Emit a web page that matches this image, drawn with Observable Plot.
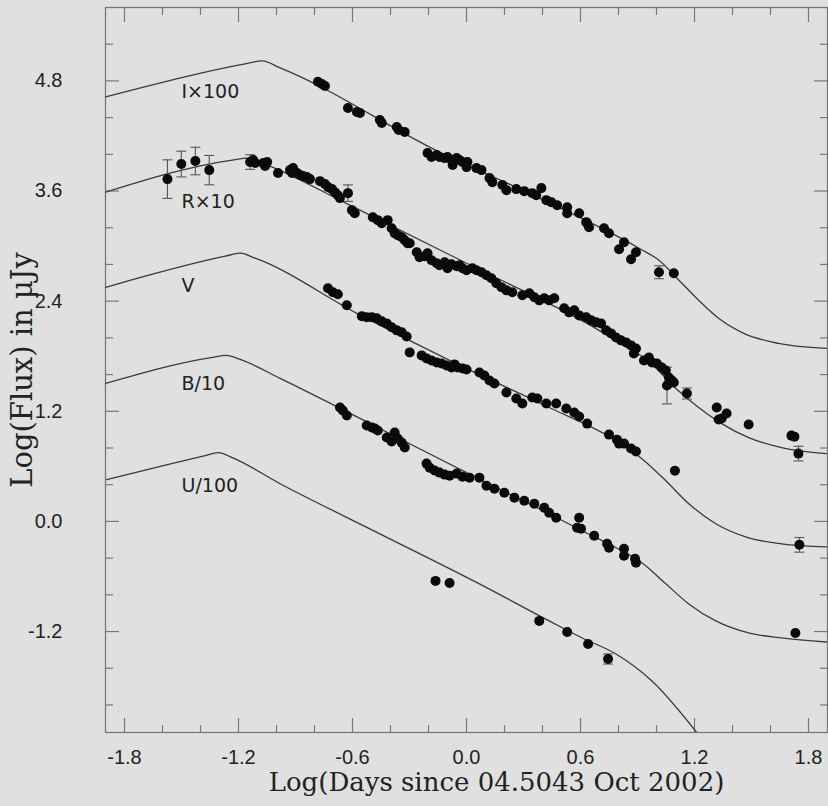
<!DOCTYPE html>
<html><head><meta charset="utf-8">
<script src="https://cdn.jsdelivr.net/npm/d3@7"></script>
<script src="https://cdn.jsdelivr.net/npm/@observablehq/plot@0.6"></script>
<style>
html,body{margin:0;padding:0;background:#e0e0e0;}
</style></head><body><div id="chart"></div>
<script>
// ---- tick values ----
const xMajor = [-1.8, -1.2, -0.6, 0.0, 0.6, 1.2, 1.8];
const xMinor = [-1.6, -1.4, -1.0, -0.8, -0.4, -0.2, 0.2, 0.4, 0.8, 1.0, 1.4, 1.6];
const yMajor = [-1.2, 0.0, 1.2, 2.4, 3.6, 4.8];
const yMinor = [-2.0, -1.6, -0.8, -0.4, 0.4, 0.8, 1.6, 2.0, 2.8, 3.2, 4.0, 4.4, 5.2];

// ---- band labels ----
const bandNames = ["I×100", "R×10", "V", "B/10", "U/100"];
const bandLabelX = [-1.50, -1.50, -1.50, -1.50, -1.50];
const bandLabelY = [4.68, 3.48, 2.57, 1.50, 0.39];

// ---- model curves [x, y] ----
const curveI = [[-1.899,4.625],[-1.165,4.986],[-1.076,5.018],[-0.981,4.942],[-0.142,4.025],[0.383,3.523],[0.908,2.977],[1.013,2.846],[1.118,2.628],[1.222,2.410],[1.327,2.213],[1.459,2.049],[1.642,1.940],[1.894,1.885]];
const curveR = [[-1.899,3.588],[-1.233,3.938],[-1.154,3.959],[-1.076,3.905],[-0.614,3.446],[0.000,2.813],[0.698,2.082],[0.829,1.918],[0.960,1.743],[1.102,1.448],[1.222,1.241],[1.343,1.066],[1.485,0.913],[1.658,0.804],[1.894,0.739]];
const curveV = [[-1.899,2.551],[-1.270,2.890],[-1.191,2.923],[-1.112,2.868],[-0.577,2.267],[-0.089,1.754],[0.435,1.241],[0.787,0.881],[0.923,0.684],[1.049,0.444],[1.170,0.193],[1.312,-0.025],[1.485,-0.178],[1.658,-0.244],[1.894,-0.277]];
const curveB = [[-1.899,1.503],[-1.338,1.787],[-1.265,1.809],[-1.191,1.765],[-0.981,1.558],[-0.456,1.012],[0.084,0.444],[0.435,0.084],[0.609,-0.102],[0.787,-0.287],[0.923,-0.451],[1.049,-0.680],[1.170,-0.899],[1.312,-1.084],[1.485,-1.215],[1.658,-1.270],[1.894,-1.314]];
const curveU = [[-1.894,0.455],[-1.375,0.717],[-1.306,0.750],[-1.233,0.695],[-0.981,0.411],[-0.456,-0.135],[0.068,-0.681],[0.435,-1.084],[0.609,-1.270],[0.787,-1.445],[0.976,-1.739],[1.212,-2.300]];

// ---- observed points [x, y] ----
const ptsI = [[-0.782,4.790],[-0.761,4.767],[-0.745,4.745],[-0.624,4.505],[-0.577,4.462],[-0.561,4.451],[-0.456,4.374],[-0.446,4.341],[-0.367,4.298],[-0.357,4.265],[-0.325,4.243],[-0.205,4.014],[-0.184,3.970],[-0.157,3.992],[-0.142,3.970],[-0.115,3.959],[-0.100,3.970],[-0.079,3.938],[-0.073,3.883],[-0.052,3.959],[-0.037,3.938],[-0.021,3.916],[0.000,3.861],[0.005,3.916],[0.052,3.850],[0.079,3.828],[0.121,3.741],[0.136,3.697],[0.189,3.665],[0.210,3.610],[0.262,3.621],[0.304,3.599],[0.346,3.577],[0.367,3.555],[0.394,3.632],[0.420,3.501],[0.446,3.479],[0.477,3.446],[0.530,3.424],[0.530,3.359],[0.593,3.359],[0.630,3.261],[0.645,3.206],[0.635,3.250],[0.724,3.195],[0.750,3.141],[0.803,2.966],[0.829,3.042],[0.866,2.857],[0.892,2.933],[1.013,2.715],[1.091,2.704]];
const ptsR = [[-1.574,3.730],[-1.501,3.894],[-1.427,3.927],[-1.354,3.828],[-1.139,3.916],[-1.112,3.905],[-1.123,3.938],[-1.070,3.905],[-1.060,3.872],[-1.049,3.916],[-0.992,3.796],[-0.929,3.828],[-0.918,3.796],[-0.913,3.850],[-0.892,3.796],[-0.876,3.774],[-0.861,3.763],[-0.840,3.752],[-0.824,3.730],[-0.771,3.708],[-0.745,3.676],[-0.729,3.643],[-0.708,3.621],[-0.693,3.588],[-0.677,3.555],[-0.666,3.523],[-0.624,3.577],[-0.603,3.392],[-0.588,3.359],[-0.493,3.315],[-0.467,3.283],[-0.446,3.250],[-0.415,3.283],[-0.394,3.195],[-0.378,3.141],[-0.362,3.119],[-0.341,3.097],[-0.325,3.064],[-0.310,3.031],[-0.299,3.031],[-0.262,2.933],[-0.247,2.879],[-0.220,2.890],[-0.205,2.922],[-0.184,2.846],[-0.157,2.813],[-0.142,2.792],[-0.115,2.824],[-0.100,2.759],[-0.079,2.802],[-0.052,2.780],[-0.037,2.792],[-0.021,2.759],[0.000,2.737],[0.031,2.759],[0.052,2.737],[0.079,2.715],[0.105,2.682],[0.131,2.649],[0.157,2.595],[0.184,2.551],[0.210,2.518],[0.241,2.497],[0.294,2.464],[0.331,2.486],[0.357,2.442],[0.383,2.409],[0.409,2.431],[0.435,2.409],[0.462,2.431],[0.514,2.322],[0.540,2.278],[0.567,2.300],[0.593,2.245],[0.630,2.224],[0.656,2.191],[0.682,2.169],[0.708,2.158],[0.735,2.082],[0.761,2.049],[0.787,2.005],[0.813,1.973],[0.840,1.951],[0.866,1.918],[0.892,1.885],[0.881,1.831],[0.934,1.754],[0.960,1.787],[0.976,1.732],[1.002,1.721],[1.028,1.678],[1.049,1.645],[1.065,1.569],[1.081,1.536],[1.065,1.503],[1.091,1.514],[1.055,1.481],[1.160,1.394],[1.317,1.241],[1.327,1.110],[1.343,1.121],[1.369,1.176],[1.485,1.056],[1.710,0.935],[1.726,0.924],[1.747,0.739]];
const ptsV = [[-0.729,2.540],[-0.703,2.497],[-0.677,2.475],[-0.630,2.355],[-0.551,2.235],[-0.525,2.224],[-0.498,2.224],[-0.472,2.213],[-0.446,2.180],[-0.420,2.158],[-0.394,2.115],[-0.367,2.082],[-0.341,2.060],[-0.315,2.016],[-0.299,1.842],[-0.236,1.809],[-0.210,1.776],[-0.184,1.754],[-0.157,1.732],[-0.131,1.721],[-0.105,1.700],[-0.079,1.678],[-0.063,1.711],[-0.047,1.678],[-0.021,1.667],[0.000,1.656],[0.068,1.623],[0.094,1.590],[0.121,1.536],[0.147,1.503],[0.210,1.405],[0.262,1.339],[0.294,1.285],[0.346,1.350],[0.373,1.339],[0.420,1.285],[0.472,1.285],[0.525,1.230],[0.567,1.187],[0.593,1.143],[0.635,1.066],[0.750,0.946],[0.792,0.891],[0.803,0.848],[0.829,0.848],[0.866,0.794],[0.892,0.761],[1.097,0.553],[1.752,-0.255]];
const ptsB = [[-0.666,1.241],[-0.651,1.208],[-0.630,1.154],[-0.525,1.045],[-0.498,1.023],[-0.483,1.012],[-0.467,0.990],[-0.420,0.914],[-0.394,0.870],[-0.378,0.968],[-0.362,0.903],[-0.341,0.859],[-0.325,0.805],[-0.210,0.630],[-0.194,0.586],[-0.168,0.554],[-0.142,0.532],[-0.115,0.510],[-0.089,0.499],[-0.052,0.521],[-0.021,0.488],[0.016,0.477],[0.068,0.477],[0.105,0.390],[0.147,0.357],[0.199,0.313],[0.252,0.259],[0.304,0.226],[0.357,0.193],[0.409,0.149],[0.435,0.095],[0.472,0.040],[0.593,0.040],[0.582,-0.069],[0.603,-0.080],[0.672,-0.156],[0.740,-0.244],[0.750,-0.287],[0.829,-0.298],[0.829,-0.375],[0.887,-0.407],[0.892,-0.451],[1.731,-1.215]];
const ptsU = [[-0.163,-0.648],[-0.089,-0.670],[0.383,-1.084],[0.530,-1.204],[0.640,-1.335],[0.745,-1.499]];

// ---- error bars [x, y, halfwidth] ----
const errBars = [[-1.574,3.730,0.21],[-1.501,3.894,0.14],[-1.427,3.927,0.15],[-1.354,3.828,0.16],[-1.139,3.916,0.08],[-0.624,3.577,0.09],[1.055,1.481,0.20],[1.160,1.394,0.06],[1.747,0.739,0.08],[1.013,2.715,0.07],[1.752,-0.255,0.08],[0.745,-1.499,0.055]];

// ---- assemble tables ----
const curveTable = [["I",curveI],["R",curveR],["V",curveV],["B",curveB],["U",curveU]]
  .flatMap(([band, arr]) => arr.map(([x, y]) => ({band, x, y})));
const pointTable = [ptsI, ptsR, ptsV, ptsB, ptsU].flatMap(arr => arr.map(([x, y]) => ({x, y})));
const errTable = errBars.map(([x, y, e]) => ({x, y, lo: y - e, hi: y + e}));
const labelTable = bandNames.map((t, k) => ({t, x: bandLabelX[k], y: bandLabelY[k]}));

const capSymbol = {draw(ctx, size) { const w = Math.sqrt(size / Math.PI); ctx.moveTo(-w, 0); ctx.lineTo(w, 0); }};
const tickColor = "#787878";
const fmt = d => d.toFixed(1);

const plot = Plot.plot({
  width: 828, height: 806,
  marginLeft: 105, marginRight: 1, marginTop: 7, marginBottom: 74,
  style: {background: "#e0e0e0", color: "#222", fontFamily: "'Liberation Sans', Arial, sans-serif"},
  x: {domain: [-1.9, 1.9]},
  y: {domain: [-2.3, 5.6]},
  marks: [
    Plot.frame({stroke: tickColor, strokeWidth: 1.3}),
    Plot.axisX(xMinor, {anchor: "bottom", tickSize: -7, stroke: tickColor, strokeWidth: 1.2, fill: "none", label: null}),
    Plot.axisX(xMinor, {anchor: "top", tickSize: -7, stroke: tickColor, strokeWidth: 1.2, fill: "none", label: null}),
    Plot.axisX(xMajor, {anchor: "bottom", tickSize: -14, stroke: tickColor, strokeWidth: 1.2, fill: "none", label: null}),
    Plot.axisX(xMajor, {anchor: "top", tickSize: -14, stroke: tickColor, strokeWidth: 1.2, fill: "none", label: null}),
    Plot.axisY(yMinor, {anchor: "left", tickSize: -8, stroke: tickColor, strokeWidth: 1.2, fill: "none", label: null}),
    Plot.axisY(yMinor, {anchor: "right", tickSize: -8, stroke: tickColor, strokeWidth: 1.2, fill: "none", label: null}),
    Plot.axisY(yMajor, {anchor: "left", tickSize: -14, stroke: tickColor, strokeWidth: 1.2, fill: "none", label: null}),
    Plot.axisY(yMajor, {anchor: "right", tickSize: -14, stroke: tickColor, strokeWidth: 1.2, fill: "none", label: null}),
    Plot.axisX(xMajor, {anchor: "bottom", tickSize: 0, tickPadding: 17, tickFormat: fmt, fontSize: 20, fill: "#222", label: null}),
    Plot.axisY(yMajor, {anchor: "left", tickSize: 0, tickPadding: 43, tickFormat: fmt, fontSize: 20, fill: "#222", label: null}),
    Plot.line(curveTable, {x: "x", y: "y", z: "band", stroke: "#3a3a3a", strokeWidth: 1.3, curve: "monotone-x", clip: true}),
    Plot.ruleX(errTable, {x: "x", y1: "lo", y2: "hi", stroke: "#555", strokeWidth: 1.1}),
    Plot.dot(errTable, {x: "x", y: "lo", symbol: capSymbol, r: 5, stroke: "#555", fill: "none", strokeWidth: 1.1}),
    Plot.dot(errTable, {x: "x", y: "hi", symbol: capSymbol, r: 5, stroke: "#555", fill: "none", strokeWidth: 1.1}),
    Plot.dot(pointTable, {x: "x", y: "y", r: 5, fill: "#0a0a0a", stroke: "none"}),
    Plot.text(labelTable, {x: "x", y: "y", text: "t", textAnchor: "start", fontSize: 19, fontFamily: "'DejaVu Sans', sans-serif", fill: "#222", ariaLabel: "bandlabels"}),
    Plot.text(["Log(Days since 04.5043 Oct 2002)"], {text: d => d, frameAnchor: "bottom", textAnchor: "middle", dx: 30, dy: 50, lineAnchor: "middle", fontSize: 26, fontFamily: "'DejaVu Serif', serif", fill: "#222"}),
    Plot.text(["Log(Flux) in μJy"], {text: d => d, frameAnchor: "left", textAnchor: "middle", dx: -83, rotate: -90, lineAnchor: "middle", fontSize: 29, fontFamily: "'DejaVu Serif', serif", fill: "#222"})
  ]
});
d3.select(plot).select('g[aria-label="bandlabels"]').attr("letter-spacing", "3");
document.getElementById("chart").appendChild(plot);
</script>
</body></html>
